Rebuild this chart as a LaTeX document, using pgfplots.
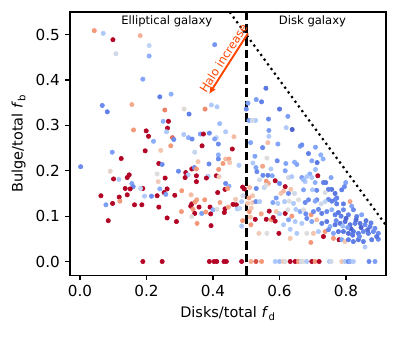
\documentclass[border=0pt]{standalone}
\usepackage{fontspec}
\setmainfont{DejaVu Sans}
\usepackage{pgfplots}
\usepackage{pgfplotstable}
\pgfplotsset{compat=1.18}
\usetikzlibrary{arrows.meta}
\definecolor{orangered}{RGB}{255,69,0}
\pgfplotsset{colormap={coolwarm}{rgb255(0cm)=(59,76,192) rgb255(1cm)=(98,130,234) rgb255(2cm)=(141,176,254) rgb255(3cm)=(184,208,249) rgb255(4cm)=(221,221,221) rgb255(5cm)=(245,196,173) rgb255(6cm)=(244,154,123) rgb255(7cm)=(222,96,77) rgb255(8cm)=(180,4,38)}}

\pgfplotstableread{
x y c
0.043 0.509 0.75
0.070 0.503 0.35
0.099 0.489 1.0
0.181 0.498 0.68
0.208 0.476 0.40
0.108 0.458 0.45
0.208 0.453 0.25
0.405 0.478 0.18
0.189 0.402 0.22
0.240 0.363 0.12
0.274 0.369 0.25
0.067 0.344 0.15
0.082 0.330 0.12
0.156 0.346 0.70
0.255 0.334 0.80
0.313 0.336 0.52
0.376 0.336 0.78
0.328 0.325 0.12
0.395 0.345 0.35
0.412 0.341 0.35
0.420 0.304 0.30
0.250 0.309 0.25
0.266 0.309 1.0
0.161 0.290 0.75
0.199 0.288 1.0
0.263 0.294 1.0
0.260 0.286 0.35
0.206 0.276 1.0
0.278 0.273 0.85
0.282 0.269 0.15
0.221 0.265 0.25
0.097 0.241 0.20
0.196 0.244 1.0
0.243 0.245 0.62
0.273 0.255 0.75
0.124 0.227 1.0
0.002 0.209 0.15
0.237 0.216 1.0
0.247 0.214 0.15
0.091 0.199 0.55
0.232 0.193 0.50
0.148 0.191 1.0
0.142 0.185 1.0
0.101 0.182 1.0
0.117 0.181 0.35
0.256 0.184 1.0
0.235 0.176 0.60
0.156 0.172 0.22
0.160 0.165 0.15
0.136 0.161 1.0
0.151 0.160 1.0
0.189 0.161 1.0
0.182 0.161 0.40
0.240 0.160 0.25
0.262 0.160 1.0
0.253 0.152 1.0
0.063 0.145 1.0
0.118 0.142 1.0
0.142 0.147 1.0
0.194 0.144 0.35
0.215 0.144 0.15
0.232 0.145 1.0
0.258 0.148 0.20
0.285 0.146 1.0
0.120 0.133 0.75
0.078 0.125 0.20
0.098 0.128 1.0
0.164 0.125 1.0
0.186 0.125 1.0
0.237 0.120 1.0
0.085 0.090 1.0
0.262 0.096 1.0
0.290 0.088 1.0
0.305 0.110 0.75
0.189 0.000 1.0
0.247 0.000 1.0
0.312 0.280 0.35
0.326 0.273 0.25
0.337 0.270 0.15
0.362 0.281 0.20
0.371 0.281 1.0
0.389 0.283 0.15
0.410 0.273 0.40
0.405 0.270 0.22
0.416 0.259 0.15
0.438 0.286 0.35
0.463 0.275 0.65
0.367 0.255 1.0
0.345 0.241 0.42
0.416 0.235 0.25
0.458 0.248 1.0
0.416 0.226 0.15
0.438 0.226 0.65
0.448 0.226 0.72
0.430 0.216 0.75
0.450 0.218 0.62
0.355 0.220 0.62
0.388 0.215 0.15
0.478 0.212 0.35
0.336 0.204 1.0
0.344 0.207 0.15
0.350 0.204 0.75
0.296 0.199 0.15
0.318 0.196 1.0
0.325 0.191 0.35
0.316 0.185 1.0
0.350 0.189 1.0
0.350 0.176 1.0
0.385 0.188 0.35
0.380 0.184 1.0
0.410 0.189 1.0
0.418 0.187 0.60
0.417 0.203 0.75
0.438 0.172 0.15
0.436 0.159 1.0
0.448 0.166 0.25
0.444 0.161 0.75
0.489 0.164 1.0
0.494 0.160 1.0
0.306 0.156 0.75
0.334 0.147 0.65
0.414 0.152 1.0
0.375 0.136 0.75
0.351 0.136 0.72
0.468 0.137 0.60
0.490 0.145 0.45
0.336 0.127 1.0
0.333 0.122 1.0
0.346 0.131 0.75
0.340 0.115 0.75
0.358 0.120 1.0
0.345 0.106 1.0
0.336 0.099 0.50
0.366 0.106 0.20
0.378 0.109 0.75
0.393 0.105 1.0
0.391 0.120 1.0
0.400 0.114 0.25
0.412 0.115 0.50
0.421 0.130 0.72
0.436 0.116 1.0
0.434 0.108 1.0
0.446 0.120 0.72
0.460 0.126 1.0
0.470 0.125 1.0
0.473 0.116 0.35
0.480 0.117 0.40
0.352 0.084 0.75
0.394 0.079 1.0
0.489 0.090 0.75
0.486 0.078 0.35
0.509 0.110 0.75
0.515 0.118 0.62
0.545 0.105 0.72
0.569 0.111 1.0
0.527 0.093 1.0
0.560 0.093 1.0
0.575 0.092 0.75
0.587 0.089 1.0
0.581 0.097 1.0
0.600 0.105 0.35
0.590 0.110 0.62
0.580 0.130 0.22
0.514 0.081 0.75
0.512 0.098 0.62
0.538 0.062 0.60
0.562 0.062 0.50
0.598 0.062 1.0
0.486 0.132 0.35
0.504 0.128 0.62
0.519 0.130 0.60
0.529 0.132 0.15
0.540 0.132 0.35
0.595 0.128 0.35
0.389 0 1.0
0.403 0 1.0
0.411 0 1.0
0.433 0 1.0
0.440 0 1.0
0.486 0 1.0
0.514 0 0.70
0.529 0 0.90
0.546 0 0.75
0.587 0 0.35
0.600 0 0.30
0.612 0 0.62
0.617 0 0.50
0.632 0 1.0
0.647 0 1.0
0.657 0 0.75
0.665 0 0.45
0.672 0 0.50
0.682 0 0.35
0.697 0 1.0
0.707 0 0.75
0.719 0 1.0
0.750 0 0.35
0.755 0 0.45
0.787 0 0.62
0.797 0 0.35
0.807 0 0.15
0.812 0 0.25
0.822 0 0.35
0.869 0 0.15
0.887 0 0.20
0.559 0.382 0.10
0.530 0.357 0.20
0.546 0.352 0.12
0.505 0.349 0.20
0.600 0.336 0.10
0.625 0.320 0.20
0.567 0.314 0.15
0.508 0.311 0.20
0.528 0.311 0.35
0.518 0.311 0.45
0.500 0.336 0.15
0.620 0.295 0.35
0.638 0.291 0.05
0.568 0.289 0.20
0.568 0.276 0.35
0.565 0.262 0.65
0.549 0.251 0.15
0.595 0.259 0.22
0.513 0.262 0.22
0.526 0.232 0.22
0.562 0.228 0.50
0.593 0.222 0.15
0.520 0.217 0.35
0.549 0.210 0.72
0.529 0.207 0.22
0.532 0.198 0.15
0.550 0.190 0.15
0.565 0.190 0.12
0.574 0.204 0.35
0.578 0.189 0.22
0.587 0.178 1.0
0.560 0.177 0.75
0.566 0.172 0.75
0.540 0.180 0.45
0.530 0.161 0.15
0.554 0.163 0.40
0.560 0.168 0.50
0.510 0.163 0.65
0.600 0.172 0.15
0.604 0.150 0.62
0.519 0.145 0.62
0.508 0.140 0.72
0.590 0.140 0.20
0.662 0.254 0.20
0.667 0.257 0.15
0.708 0.252 0.22
0.687 0.238 0.12
0.724 0.235 0.25
0.731 0.226 0.25
0.697 0.222 0.22
0.713 0.218 0.10
0.619 0.216 0.22
0.645 0.219 0.25
0.652 0.214 0.22
0.708 0.203 0.30
0.617 0.200 0.22
0.691 0.193 0.25
0.715 0.189 1.0
0.697 0.185 0.35
0.682 0.187 0.35
0.667 0.185 0.20
0.627 0.185 0.45
0.637 0.187 0.35
0.755 0.185 0.22
0.732 0.174 0.12
0.739 0.174 0.12
0.707 0.174 0.25
0.677 0.176 0.35
0.672 0.180 0.30
0.799 0.174 0.22
0.787 0.158 0.12
0.795 0.165 0.15
0.757 0.159 0.10
0.747 0.159 0.12
0.737 0.152 0.48
0.767 0.150 0.10
0.772 0.140 0.12
0.699 0.158 0.35
0.712 0.157 0.15
0.672 0.158 0.22
0.627 0.150 0.15
0.617 0.165 1.0
0.634 0.159 0.62
0.612 0.155 0.65
0.645 0.150 0.45
0.657 0.136 0.50
0.687 0.136 0.15
0.712 0.136 0.15
0.747 0.137 0.15
0.767 0.136 0.15
0.812 0.132 0.72
0.615 0.132 0.35
0.629 0.133 0.50
0.642 0.128 0.35
0.677 0.130 0.15
0.707 0.133 0.22
0.725 0.127 0.45
0.737 0.132 0.40
0.757 0.133 0.12
0.772 0.127 0.12
0.792 0.127 0.12
0.817 0.122 0.22
0.617 0.106 1.0
0.625 0.114 0.50
0.637 0.100 0.75
0.649 0.115 0.35
0.662 0.110 0.22
0.672 0.114 0.50
0.679 0.105 0.15
0.695 0.103 0.75
0.702 0.110 0.15
0.717 0.115 0.15
0.727 0.106 0.12
0.742 0.110 0.15
0.757 0.114 0.25
0.767 0.103 0.12
0.777 0.108 0.10
0.792 0.114 0.15
0.807 0.103 0.12
0.822 0.114 0.15
0.847 0.103 0.22
0.832 0.099 0.12
0.612 0.081 0.35
0.627 0.092 0.22
0.647 0.088 0.35
0.667 0.084 0.35
0.682 0.095 0.15
0.697 0.088 0.22
0.712 0.092 0.65
0.727 0.084 0.12
0.742 0.088 0.10
0.752 0.077 0.25
0.767 0.081 0.10
0.782 0.084 0.10
0.797 0.088 0.08
0.812 0.081 0.10
0.827 0.084 0.12
0.842 0.084 0.10
0.857 0.081 0.15
0.872 0.077 0.12
0.887 0.073 0.15
0.632 0.071 0.35
0.652 0.062 0.35
0.682 0.062 0.50
0.702 0.062 0.62
0.717 0.066 0.35
0.737 0.066 0.75
0.747 0.070 0.15
0.762 0.062 0.22
0.777 0.066 0.10
0.792 0.066 0.10
0.807 0.062 0.08
0.822 0.066 0.10
0.837 0.062 0.12
0.852 0.066 0.15
0.867 0.062 0.12
0.882 0.066 0.15
0.897 0.062 0.15
0.632 0.051 0.62
0.694 0.042 0.75
0.732 0.055 1.0
0.762 0.051 0.75
0.779 0.048 1.0
0.787 0.048 0.22
0.797 0.044 0.62
0.807 0.048 0.12
0.822 0.044 0.12
0.837 0.048 0.10
0.852 0.044 0.12
0.857 0.032 0.35
0.877 0.048 0.12
0.897 0.049 0.15
0.892 0.055 0.10
0.815 0.072 0.05
0.830 0.092 0.08
0.845 0.075 0.05
0.860 0.090 0.10
0.875 0.085 0.12
0.800 0.095 0.05
0.785 0.100 0.12
0.770 0.090 0.15
0.840 0.055 0.15
0.865 0.070 0.08
0.820 0.058 0.10
0.805 0.075 0.20
0.790 0.078 0.30
}\galaxies

\begin{document}
\begin{tikzpicture}
\begin{axis}[
  width=218pt, height=181.5pt, scale only axis,
  xmin=-0.03, xmax=0.92, ymin=-0.03, ymax=0.55,
  xtick={0,0.2,0.4,0.6,0.8},
  ytick={0,0.1,0.2,0.3,0.4,0.5},
  tick pos=left, tick align=outside, major tick length=3.5pt,
  every tick/.style={black, line width=0.8pt},
  axis line style={line width=0.8pt},
  /pgf/number format/.cd, fixed, fixed zerofill, precision=1, assume math mode=true, /pgfplots/.cd,
  ticklabel style={font=\fontsize{10.5}{12}\selectfont},
  label style={font=\fontsize{10}{12}\selectfont},
  xlabel={Disks/total \textit{f}\textsubscript{d}},
  ylabel={Bulge/total \textit{f}\textsubscript{b}},
  colormap name=coolwarm, point meta min=0, point meta max=1,
]
\addplot[scatter, only marks, mark=*, mark size=1.5pt, scatter src=explicit,
  scatter/use mapped color={draw=mapped color, fill=mapped color}]
  table[x=x, y=y, meta=c] {\galaxies};
\addplot[black, line width=2pt, dash pattern=on 6pt off 2.8pt] coordinates {(0.5,-0.03) (0.5,0.55)};
\addplot[black, line width=1.5pt, dash pattern=on 1.5pt off 2.5pt] coordinates {(0.45,0.55) (0.92,0.08)};
\draw[-{Latex[length=5pt,width=4.5pt]}, orangered, line width=1.3pt] (axis cs:0.505,0.503) -- (axis cs:0.388,0.369);
\node[rotate=57.6, anchor=south, inner sep=1.5pt, text=orangered, font=\fontsize{8}{9}\selectfont] at (axis cs:0.449,0.44) {Halo increase};
\node[font=\fontsize{8}{9}\selectfont] at (axis cs:0.261,0.529) {Elliptical galaxy};
\node[font=\fontsize{8}{9}\selectfont] at (axis cs:0.699,0.529) {Disk galaxy};
\end{axis}
\path ([shift={(-48.3pt,-42.1pt)}]current axis.south west) rectangle ([shift={(8.3pt,8.3pt)}]current axis.north east);
\end{tikzpicture}
\end{document}
